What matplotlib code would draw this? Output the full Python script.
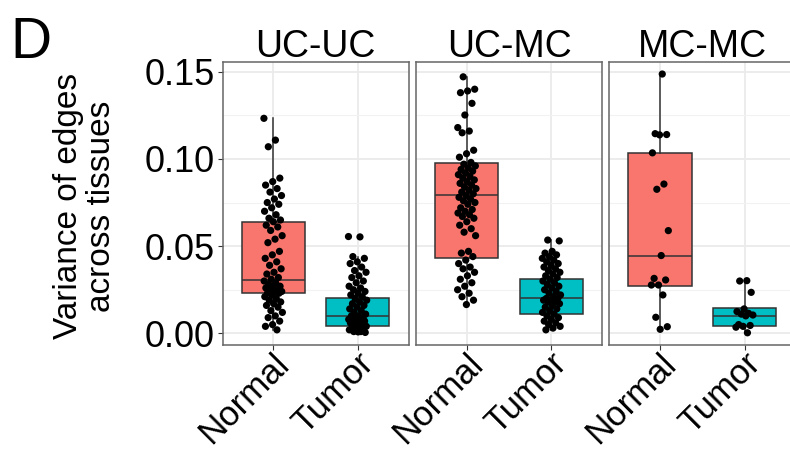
import matplotlib
matplotlib.use("Agg")
import matplotlib.pyplot as plt
from matplotlib.transforms import ScaledTranslation

plt.rcParams["font.family"] = ["Liberation Sans", "DejaVu Sans"]

# Facets, groups and colours
panels = ["UC-UC", "UC-MC", "MC-MC"]
groups = ["Normal", "Tumor"]
fills = ["#F8766D", "#00BFC4"]

# Box summary statistics per panel: [Normal, Tumor]
q1 = {"UC-UC": [0.0233, 0.0044], "UC-MC": [0.0430, 0.0109], "MC-MC": [0.0271, 0.0042]}
med = {"UC-UC": [0.0306, 0.0101], "UC-MC": [0.0793, 0.0200], "MC-MC": [0.0446, 0.0101]}
q3 = {"UC-UC": [0.0640, 0.0200], "UC-MC": [0.0975, 0.0310], "MC-MC": [0.1035, 0.0143]}
whislo = {"UC-UC": [0.0017, 0.0000], "UC-MC": [0.0165, 0.0020], "MC-MC": [0.0023, 0.0003]}
whishi = {"UC-UC": [0.1233, 0.0440], "UC-MC": [0.1471, 0.0535], "MC-MC": [0.1487, 0.0302]}

# Individual edge variances
uc_uc_normal = [0.1233, 0.1108, 0.1070, 0.089, 0.087, 0.085, 0.083, 0.081, 0.079,
                0.077, 0.075, 0.074, 0.072, 0.070, 0.068, 0.066, 0.065, 0.064,
                0.062, 0.061, 0.059, 0.056, 0.054, 0.052, 0.047, 0.045, 0.043,
                0.041, 0.039, 0.037, 0.035, 0.034, 0.032, 0.031, 0.030, 0.029,
                0.028, 0.027, 0.027, 0.026, 0.025, 0.025, 0.024, 0.024, 0.023,
                0.023, 0.022, 0.021, 0.020, 0.019, 0.018, 0.017, 0.016, 0.015,
                0.013, 0.012, 0.010, 0.009, 0.007, 0.005, 0.004, 0.002]
uc_uc_tumor = [0.0555, 0.0553, 0.044, 0.043, 0.041, 0.040, 0.038, 0.036, 0.035,
               0.033, 0.032, 0.030, 0.029, 0.027, 0.026, 0.025, 0.024, 0.023,
               0.022, 0.021, 0.020, 0.019, 0.018, 0.017, 0.016, 0.015, 0.014,
               0.013, 0.012, 0.011, 0.010, 0.010, 0.009, 0.009, 0.008, 0.008,
               0.007, 0.007, 0.006, 0.006, 0.005, 0.005, 0.004, 0.004, 0.003,
               0.003, 0.002, 0.002, 0.001, 0.001, 0.0005, 0.0008]
uc_mc_normal = [0.1471, 0.140, 0.139, 0.138, 0.1319, 0.1252, 0.118, 0.116, 0.115,
                0.105, 0.103, 0.101, 0.098, 0.097, 0.096, 0.095, 0.094, 0.093,
                0.092, 0.091, 0.090, 0.089, 0.088, 0.087, 0.086, 0.085, 0.084,
                0.083, 0.082, 0.081, 0.080, 0.079, 0.078, 0.077, 0.076, 0.075,
                0.074, 0.072, 0.071, 0.070, 0.069, 0.068, 0.067, 0.066, 0.064,
                0.062, 0.060, 0.058, 0.056, 0.047, 0.046, 0.044, 0.042, 0.040,
                0.038, 0.037, 0.035, 0.033, 0.031, 0.029, 0.027, 0.025, 0.023,
                0.021, 0.019, 0.0165]
uc_mc_tumor = [0.0535, 0.0530, 0.047, 0.046, 0.045, 0.044, 0.043, 0.042, 0.041,
               0.040, 0.039, 0.038, 0.037, 0.036, 0.035, 0.034, 0.033, 0.032,
               0.031, 0.030, 0.029, 0.028, 0.027, 0.026, 0.025, 0.024, 0.023,
               0.022, 0.021, 0.020, 0.020, 0.019, 0.019, 0.018, 0.018, 0.017,
               0.016, 0.015, 0.014, 0.013, 0.012, 0.011, 0.010, 0.009, 0.008,
               0.007, 0.006, 0.005, 0.004, 0.003, 0.002]
mc_mc_normal = [0.1487, 0.1145, 0.1140, 0.1138, 0.1035, 0.0856, 0.0826, 0.0589,
                0.0446, 0.0315, 0.0306, 0.0277, 0.0277, 0.0220, 0.0092, 0.0038,
                0.0023]
mc_mc_tumor = [0.0302, 0.0300, 0.0235, 0.0140, 0.0125, 0.0115, 0.0110, 0.0105,
               0.0100, 0.0050, 0.0045, 0.0040, 0.0035, 0.0003]

points = {"UC-UC": [uc_uc_normal, uc_uc_tumor],
          "UC-MC": [uc_mc_normal, uc_mc_tumor],
          "MC-MC": [mc_mc_normal, mc_mc_tumor]}

yticks = [0.00, 0.05, 0.10, 0.15]
ytick_labels = ["0.00", "0.05", "0.10", "0.15"]
ylabel = "Variance of edges\nacross tissues"

W, H = 790, 453
fig = plt.figure(figsize=(W / 100, H / 100), dpi=100)

panel_lefts = [222.5, 416.0, 609.3]
panel_w = 186.0
panel_top, panel_bot = 62.0, 345.0

edge = "#333333"
for k, name in enumerate(panels):
    ax = fig.add_axes([panel_lefts[k] / W, 1 - panel_bot / H,
                       panel_w / W, (panel_bot - panel_top) / H])

    stats = []
    for g in range(2):
        stats.append(dict(med=med[name][g], q1=q1[name][g], q3=q3[name][g],
                          whislo=whislo[name][g], whishi=whishi[name][g],
                          fliers=[], label=groups[g]))
    bp = ax.bxp(stats, positions=[1, 2], widths=0.75, patch_artist=True,
                showcaps=False, showfliers=False, manage_ticks=False,
                boxprops=dict(edgecolor=edge, lw=1.1),
                whiskerprops=dict(color=edge, lw=1.1),
                medianprops=dict(color=edge, lw=1.1))
    for patch, c in zip(bp["boxes"], fills):
        patch.set_facecolor(c)
        patch.set_zorder(2)
    for ln in bp["whiskers"] + bp["medians"]:
        ln.set_zorder(2.5)

    # jittered points
    for g in range(2):
        vals = points[name][g]
        xs = [g + 1 + ((i * 0.6180339887 + 0.31 * k) % 1.0 - 0.5) * 0.22
              for i in range(len(vals))]
        ax.scatter(xs, vals, s=27, color="black", edgecolors="none", zorder=3)

    ax.set_xlim(0.4, 2.6)
    ax.set_ylim(-0.0067, 0.1556)

    # grid
    ax.set_yticks(yticks)
    ax.set_yticks([0.025, 0.075, 0.125], minor=True)
    ax.set_xticks([1, 2])
    ax.grid(True, which="major", color="#EBEBEB", lw=1.3, zorder=0)
    ax.grid(True, which="minor", axis="y", color="#F2F2F2", lw=0.8, zorder=0)
    ax.set_axisbelow(True)

    for s in ax.spines.values():
        s.set_color("#666666")
        s.set_linewidth(1.1)

    ax.tick_params(axis="both", which="major", color="#333333", length=3.5,
                   width=0.8, labelsize=26, labelcolor="black", pad=2)
    ax.tick_params(axis="x", labelsize=25, pad=0)
    ax.tick_params(axis="y", which="minor", length=0)
    ax.set_xticklabels(groups, rotation=45, ha="right", va="top",
                       rotation_mode="anchor")
    offs = ScaledTranslation(-1 / 100, 3 / 100, fig.dpi_scale_trans)
    for lab in ax.get_xticklabels():
        lab.set_transform(lab.get_transform() + offs)
    if k == 0:
        ax.set_yticklabels(ytick_labels)
    else:
        ax.tick_params(axis="y", which="both", left=False, labelleft=False)

    ax.annotate(name, xy=(0.5, 1.0), xycoords="axes fraction",
                xytext=(0, 5), textcoords="offset pixels",
                ha="center", va="baseline", fontsize=27)

fig.text(85 / W, 1 - 206 / H, ylabel, rotation=90, ha="center", va="center",
         fontsize=24, linespacing=1.08, multialignment="center")
fig.text(10 / W, 1 - 58 / H, "D", ha="left", va="baseline", fontsize=41)

fig.savefig("out.png", dpi=100)
